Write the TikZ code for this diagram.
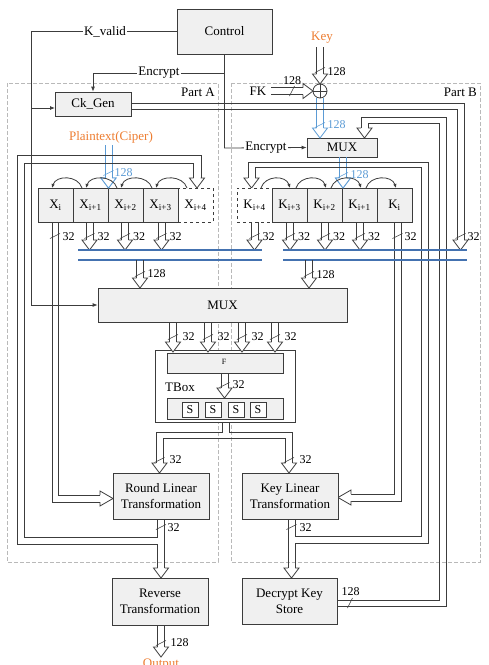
\documentclass[tikz,border=0pt]{standalone}
\usepackage{fontspec}
\setmainfont{Liberation Serif}
\usetikzlibrary{arrows.meta}
\definecolor{ac}{RGB}{60,60,60}
\definecolor{bl}{RGB}{91,155,213}
\definecolor{busc}{RGB}{68,114,176}
\definecolor{orng}{RGB}{237,125,49}
\definecolor{bxf}{RGB}{240,240,240}
\definecolor{prt}{RGB}{185,185,185}
\newcommand\ahD[4][ac]{\filldraw[draw=#1,fill=white,line width=0.8pt] (#2-3.5,#3) -- (#2-7.5,#3) -- (#2,#4) -- (#2+7.5,#3) -- (#2+3.5,#3);}
\newcommand\ahR[4][ac]{\filldraw[draw=#1,fill=white,line width=0.8pt] (#3,#2-3.5) -- (#3,#2-7.5) -- (#4,#2) -- (#3,#2+7.5) -- (#3,#2+3.5);}
\newcommand\arV[4][ac]{\draw[draw=#1,line width=0.8pt] (#2-3.5,#3) -- (#2-3.5,#4-10) (#2+3.5,#3) -- (#2+3.5,#4-10); \ahD[#1]{#2}{#4-10}{#4}}
\newcommand\arH[4][ac]{\draw[draw=#1,line width=0.8pt] (#3,#2-3.5) -- (#4-10,#2-3.5) (#3,#2+3.5) -- (#4-10,#2+3.5); \ahR[#1]{#2}{#4-10}{#4}}
\newcommand\tkV[3][ac]{\draw[draw=#1,line width=0.6pt] (#2-5,#3+2.5) -- (#2+5,#3-2.5);}
\newcommand\tkH[3][ac]{\draw[draw=#1,line width=0.6pt] (#2-2.5,#3+5) -- (#2+2.5,#3-5);}
\begin{document}
\begin{tikzpicture}[x=1pt,y=-1pt,
  every node/.style={font=\fontsize{13}{16}\selectfont},
  box/.style={draw=ac, fill=bxf, line width=0.8pt, inner sep=1pt, align=center},
  reg/.style={box, minimum width=35, minimum height=34},
  ln/.style={draw=ac, line width=0.8pt},
  tip/.style={-{Latex[length=5pt,width=4pt]}},
  atip/.style={-{Latex[length=4pt,width=3.5pt]}},
  lab/.style={inner sep=0.5pt, font=\fontsize{12}{12}\selectfont},
  cut/.style={fill=white, inner sep=1pt},
  bus/.style={draw=busc, line width=1.5pt},
  part/.style={draw=prt, line width=0.7pt, dash pattern=on 4pt off 2pt}]
\useasboundingbox (0,0) rectangle (489,665);

% parts
\draw[part] (7,83) rectangle (218,562);
\draw[part] (231,83) rectangle (480,562);
\node[anchor=east, inner sep=0] (pa) at (215,92) {Part A};
\node[anchor=east, inner sep=0] (pb) at (477,92) {Part B};

% control and signals
\node[box, minimum width=95, minimum height=45] (ctrl) at (224.5,31.5) {Control};
\node[box, minimum width=76, minimum height=24] (ckgen) at (93,104) {Ck\_Gen};
\node[box, minimum width=70, minimum height=19] (mux2) at (342,147.5) {MUX};
\node[box, minimum width=249, minimum height=34] (mux) at (222.5,305) {MUX};

\draw[ln, tip] (ctrl.west) -- (31,31.5) -- (31,305) -- (mux.west);
\draw[ln, tip] (31,108) -- (55,108);
\node[cut] (kv) at (105,31.5) {K\_valid};
\draw[ln, tip] (ctrl.south) -- (224.5,148) -- (mux2.west);
\draw[ln, tip] (224.5,73) -- (93,73) -- (ckgen.north);
\node[cut] (enc1) at (159,73) {Encrypt};
\node[cut] (enc2) at (266,148) {Encrypt};

% key / FK / xor
\node[text=orng] (key) at (322,38) {Key};
\node[draw=ac, circle, minimum size=14, inner sep=0, line width=0.8pt] (xor) at (320,91) {};
\draw[ln] (xor.north) -- (xor.south) (xor.west) -- (xor.east);
\arV{320}{47}{84}
\tkV{320}{70}
\node[lab, anchor=west] at (327,72) {128};
\node (fk) at (258,91) {FK};
\arH{91}{271}{313}
\tkH{292}{91}
\node[lab] at (292,81) {128};
\arV[bl]{320}{98}{138}
\tkV[bl]{320}{125}
\node[lab, anchor=west, text=bl] at (327,125) {128};

% Ck_Gen output
\draw[ln] (131,103) -- (464,103) -- (464,240);
\draw[ln] (131,109) -- (457,109) -- (457,240);
\ahD{460.5}{240}{250}
\tkV{460.5}{236}
\node[lab, anchor=west] at (467,237) {32};

% DKS feedback to mux2
\draw[ln] (337,600) -- (439,600) -- (439,123) -- (368,123) -- (368,128);
\draw[ln] (337,606) -- (446,606) -- (446,117) -- (361,117) -- (361,128);
\ahD{364.5}{128}{138}
\tkH{350}{603}
\node[lab, anchor=west] at (341,592) {128};

% mux2 -> K regs
\arV[bl]{343}{157}{188}
\tkV[bl]{343}{175}
\node[lab, anchor=west, text=bl] at (350,175) {128};

% plaintext
\node[text=orng] (pt) at (111,137) {Plaintext(Ciper)};
\arV[bl]{108.5}{145}{188}
\tkV[bl]{108.5}{173}
\node[lab, anchor=west, text=bl] at (114,173) {128};

% KLT feedback
\draw[ln] (288,519) -- (288,568);
\draw[ln] (295,519) -- (295,536) -- (421,536) -- (421,167) -- (255,167) -- (255,178);
\draw[ln] (295,568) -- (295,543) -- (428,543) -- (428,162) -- (248,162) -- (248,178);
\ahD{251.5}{178}{188}
\ahD{291.5}{568}{578}
\tkV{291.5}{527}
\node[lab, anchor=west] at (299,528) {32};

% K_i -> KLT
\draw[ln] (394,222) -- (394,494) -- (351,494);
\draw[ln] (401,222) -- (401,501) -- (351,501);
\ahR{497.5}{351}{338}
\tkV{397.5}{236}
\node[lab, anchor=west] at (404,237) {32};

% X_i -> RLT
\draw[ln] (58,222) -- (58,495) -- (100,495);
\draw[ln] (52,222) -- (52,502) -- (100,502);
\ahR{498.5}{100}{113}
\tkV{55}{236}
\node[lab, anchor=west] at (62,237) {32};

% RLT feedback
\draw[ln] (164.5,519) -- (164.5,568);
\draw[ln] (157.5,519) -- (157.5,537) -- (24,537) -- (24,163) -- (193,163) -- (193,178);
\draw[ln] (157.5,568) -- (157.5,544) -- (17,544) -- (17,155) -- (201,155) -- (201,178);
\ahD{197}{178}{188}
\ahD{161}{568}{578}
\tkV{161}{527}
\node[lab, anchor=west] at (167,528) {32};

% registers
\node[reg, fill=white, dashed] (x4) at (195.5,205) {X\textsubscript{i+4}};
\node[reg] (x3) at (160.5,205) {X\textsubscript{i+3}};
\node[reg] (x2) at (125.5,205) {X\textsubscript{i+2}};
\node[reg] (x1) at (90.5,205) {X\textsubscript{i+1}};
\node[reg] (x0) at (55.5,205) {X\textsubscript{i}};
\node[reg, fill=white, dashed] (k4) at (254.5,205) {K\textsubscript{i+4}};
\node[reg] (k3) at (289.5,205) {K\textsubscript{i+3}};
\node[reg] (k2) at (324.5,205) {K\textsubscript{i+2}};
\node[reg] (k1) at (359.5,205) {K\textsubscript{i+1}};
\node[reg] (k0) at (394.5,205) {K\textsubscript{i}};
\ahD[bl]{108.5}{178}{188}
\ahD[bl]{343}{178}{188}

\foreach \a/\b in {82/52, 117/86, 152/121, 187/156}
  \draw[ln, atip] (\a,188) .. controls (\a-4,175) and (\b+4,175) .. (\b,188);
\foreach \a/\b in {261/290, 296/326, 331/361, 366/396}
  \draw[ln, atip] (\a,188) .. controls (\a+4,175) and (\b-4,175) .. (\b,188);

% register outputs to buses
\foreach \x in {89.5,125,161.5,254.5,290,325,360}{
  \arV{\x}{222}{250}
  \tkV{\x}{236}
  \node[lab, anchor=west] at (\x+7.5,237) {32};
}
\draw[bus] (78,250) -- (262,250) (78,260) -- (262,260);
\draw[bus] (283,250) -- (467,250) (283,260) -- (467,260);
\arV{140}{260}{288}
\tkV{140}{274}
\node[lab, anchor=west] at (147,274) {128};
\arV{309}{260}{288}
\tkV{309}{274}
\node[lab, anchor=west] at (316,275) {128};

% TBox
\node[draw=ac, fill=white, line width=0.8pt, minimum width=140, minimum height=72] (tbox) at (225,386) {};
\node[box, minimum width=116, minimum height=20] (fbox) at (225,363) {};
\node[box, minimum width=116, minimum height=21] (sbox) at (225,408.5) {};
\node[inner sep=0, font=\fontsize{8}{8}\selectfont] (fl) at (224,362) {F};
\foreach \x/\n in {190/s1,213/s2,236/s3,258/s4}
  \node[draw=ac, fill=white, line width=0.8pt, minimum width=16, minimum height=15, inner sep=0, font=\fontsize{12}{12}\selectfont] (\n) at (\x,409.5) {S};
\node (tb) at (180,387) {TBox};
\arV{224.5}{373}{398}
\tkV{224.5}{385}
\node[lab, anchor=west] at (232,385) {32};

\foreach \x in {173,208,242,275}{
  \arV{\x}{322}{352}
  \tkV{\x}{337}
  \node[lab, anchor=west] at (\x+9,337) {32};
}

% TBox split
\draw[ln] (222,422) -- (222,432) -- (156,432) -- (156,463);
\draw[ln] (163,463) -- (163,438) -- (285.5,438) -- (285.5,463);
\draw[ln] (229,422) -- (229,432) -- (292.5,432) -- (292.5,463);
\ahD{159.5}{463}{473}
\ahD{289}{463}{473}
\tkV{159.5}{460}
\node[lab, anchor=west] at (169,460) {32};
\tkV{289}{460}
\node[lab, anchor=west] at (299,460) {32};

% transformation boxes
\node[box, minimum width=96, minimum height=46] (rlt) at (161,496) {Round Linear\\Transformation};
\node[box, minimum width=96, minimum height=46] (klt) at (290,496) {Key Linear\\Transformation};
\node[box, minimum width=96, minimum height=47] (rt) at (160,601.5) {Reverse\\Transformation};
\node[box, minimum width=95, minimum height=46] (dks) at (289.5,601) {Decrypt Key\\Store};

\arV{161}{625}{657}
\tkV{161}{643}
\node[lab, anchor=west] at (170,643) {128};
\node[text=orng] (out) at (161,665) {Output};
\end{tikzpicture}
\end{document}
